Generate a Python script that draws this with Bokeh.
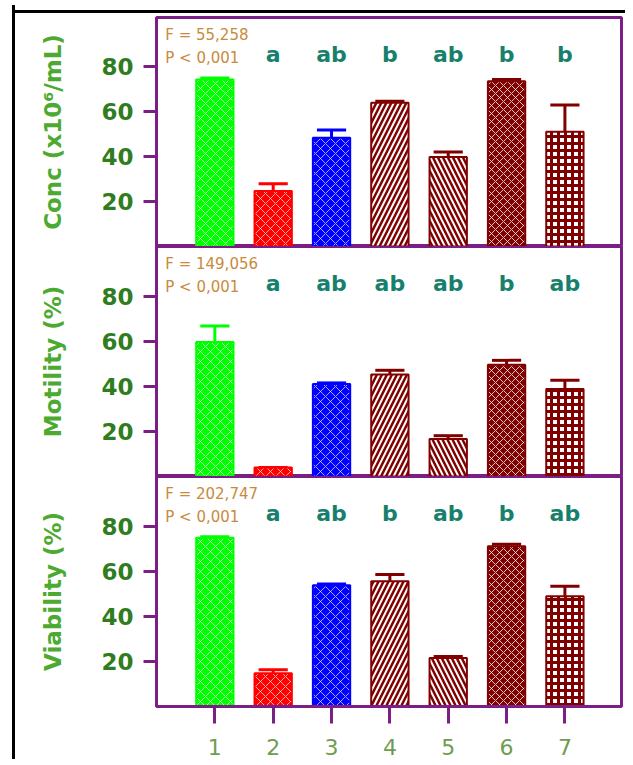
from bokeh.plotting import figure
from bokeh.models import Range1d, FixedTicker, ColumnDataSource, Div
from bokeh.layouts import column
from bokeh.embed import file_html
from bokeh.resources import INLINE
from bokeh.core.properties import value

# ---- data ----
groups = ["1", "2", "3", "4", "5", "6", "7"]
xpos = [1, 2, 3, 4, 5, 6, 7]

conc = [74.4, 24.7, 48.4, 64.0, 39.9, 73.6, 51.1]
conc_err = [0.7, 3.3, 3.5, 0.7, 2.2, 0.8, 11.9]
conc_letters = ["", "a", "ab", "b", "ab", "b", "b"]

motility = [59.7, 4.0, 41.0, 45.2, 16.6, 49.6, 38.8]
motility_err = [7.0, 0.0, 0.5, 1.9, 1.5, 1.9, 3.9]
motility_letters = ["", "a", "ab", "ab", "ab", "b", "ab"]

viability = [74.8, 14.8, 53.8, 55.6, 21.5, 71.1, 48.9]
viability_err = [0.5, 1.5, 0.5, 2.9, 0.7, 0.8, 4.4]
viability_letters = ["", "a", "ab", "b", "ab", "b", "ab"]

stats_conc = ["F = 55,258", "P < 0,001"]
stats_motility = ["F = 149,056", "P < 0,001"]
stats_viability = ["F = 202,747", "P < 0,001"]

y_ticks = [20, 40, 60, 80]

# ---- styles ----
bar_colors = ["#00ff00", "#ff0000", "#0000ff", "#800000", "#800000", "#800000", "#800000"]
bar_fills = ["#00ff00", "#ff0000", "#0000ff", "#800000", "#800000", "#800000", "#ffffff"]
hatch_colors = ["#ffffff", "#ffffff", "#ffffff", "#ffffff", "#ffffff", "#ffffff", "#800000"]
hatch_patterns = ["diagonal_cross", "diagonal_cross", "diagonal_cross",
                  "right_diagonal_line", "left_diagonal_line", "diagonal_cross", "cross"]
hatch_weights = [1.0, 1.0, 1.0, 2.0, 2.0, 1.0, 3.0]
hatch_scales = [10, 10, 10, 10, 10, 8, 7]
hatch_alphas = [0.65, 0.65, 0.65, 1.0, 1.0, 0.75, 1.0]

PURPLE = "#7b1f86"
LETTER = "#17806d"
STAT = "#c98a3c"
TICKLAB = "#2f7d1f"
AXLAB = "#4caa30"
XLAB = "#6e9d52"
FONT = "DejaVu Sans"


def make_panel(vals, errs, letters, stats, ylabel, height, top_border, bottom_axis):
    p = figure(width=610, height=height,
               x_range=Range1d(0, 7.97), y_range=Range1d(0, 102),
               output_backend="svg", toolbar_location=None,
               x_axis_location="below" if bottom_axis else None,
               min_border_left=141, min_border_right=4,
               min_border_top=top_border, min_border_bottom=53 if bottom_axis else 0)
    p.xgrid.visible = False
    p.ygrid.visible = False
    p.outline_line_color = PURPLE
    p.outline_line_width = 3
    p.background_fill_color = "white"
    p.border_fill_color = "white"

    src = ColumnDataSource(dict(
        x=xpos, top=vals, err_top=[v + e for v, e in zip(vals, errs)],
        cap_l=[x - 0.25 for x in xpos], cap_r=[x + 0.25 for x in xpos],
        line=bar_colors, fill=bar_fills, hcol=hatch_colors, hpat=hatch_patterns,
        hw=hatch_weights, hs=hatch_scales, ha=hatch_alphas, letter=letters,
    ))
    # error bars (upper only)
    p.segment(x0="x", y0="top", x1="x", y1="err_top", source=src,
              line_color="line", line_width=3)
    p.segment(x0="cap_l", y0="err_top", x1="cap_r", y1="err_top", source=src,
              line_color="line", line_width=3)
    p.vbar(x="x", top="top", bottom=0, width=0.64, source=src,
           fill_color="fill", line_color="line", line_width=2,
           hatch_pattern="hpat", hatch_color="hcol", hatch_weight="hw",
           hatch_scale="hs", hatch_alpha="ha")

    # significance letters
    p.text(x="x", y=85.5, text="letter", source=src,
           text_font=value(FONT), text_font_style="bold", text_font_size="22px",
           text_color=LETTER, text_align="center", text_baseline="middle")
    # F and P
    p.text(x=[0.15, 0.15], y=[94.2, 84.0], text=stats,
           text_font=value(FONT), text_font_size="15px",
           text_color=STAT, text_align="left", text_baseline="middle")

    yax = p.yaxis[0]
    yax.ticker = FixedTicker(ticks=y_ticks)
    yax.axis_line_color = PURPLE
    yax.axis_line_width = 3
    yax.major_tick_line_color = PURPLE
    yax.major_tick_line_width = 3
    yax.major_tick_out = 13
    yax.major_tick_in = 0
    yax.minor_tick_line_color = None
    yax.major_label_standoff = 10
    yax.major_label_text_font = FONT
    yax.major_label_text_font_style = "bold"
    yax.major_label_text_font_size = "23px"
    yax.major_label_text_color = TICKLAB
    yax.axis_label = ylabel
    yax.axis_label_text_font = FONT
    yax.axis_label_text_font_style = "bold"
    yax.axis_label_text_font_size = "23px"
    yax.axis_label_text_color = AXLAB
    yax.axis_label_standoff = 32

    if bottom_axis:
        xax = p.xaxis[0]
        xax.ticker = FixedTicker(ticks=xpos)
        xax.major_label_overrides = {x: g for x, g in zip(xpos, groups)}
        xax.axis_line_color = PURPLE
        xax.axis_line_width = 3
        xax.major_tick_line_color = PURPLE
        xax.major_tick_line_width = 3
        xax.major_tick_out = 17
        xax.major_tick_in = 0
        xax.minor_tick_line_color = None
        xax.major_label_standoff = 15
        xax.major_label_text_font = FONT
        xax.major_label_text_font_size = "22px"
        xax.major_label_text_color = XLAB
    return p


p1 = make_panel(conc, conc_err, conc_letters, stats_conc, "Conc (x10\u2076/mL)", 233, 4, False)
p2 = make_panel(motility, motility_err, motility_letters, stats_motility, "Motility (%)", 230, 0, False)
p3 = make_panel(viability, viability_err, viability_letters, stats_viability, "Viability (%)", 283, 0, True)

top_rule = Div(text="", width=610, height=3, margin=(5, 0, 0, 0),
               styles={"background-color": "black"})

layout = column(top_rule, p1, p2, p3, spacing=0,
                styles={"border-left": "3px solid black",
                        "margin-left": "12px", "margin-top": "5px"})

open("out.html", "w").write(file_html(layout, INLINE))
